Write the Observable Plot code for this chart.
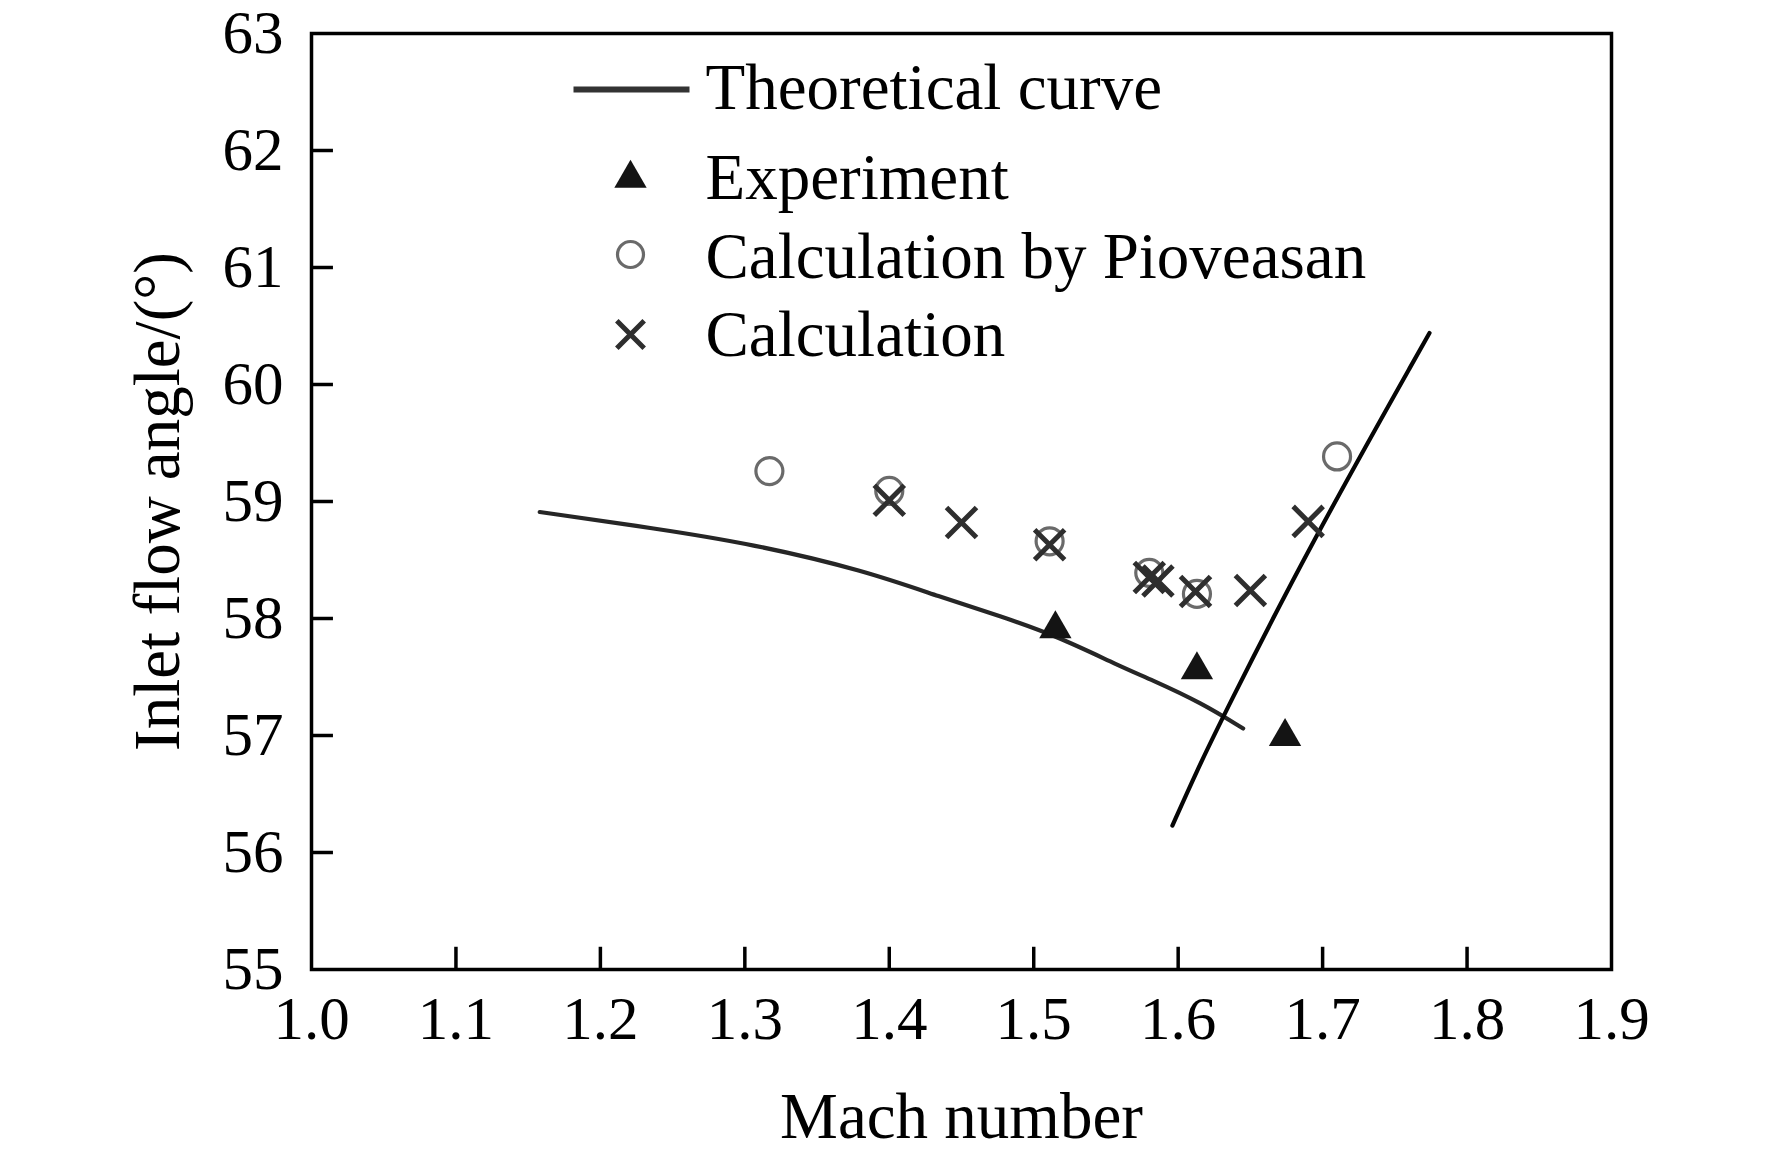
<!DOCTYPE html>
<html>
<head>
<meta charset="utf-8">
<script src="https://cdn.jsdelivr.net/npm/d3@7"></script>
<script src="https://cdn.jsdelivr.net/npm/@observablehq/plot@0.6"></script>
<style>
  html, body { margin: 0; padding: 0; background: #fff; }
  #chart svg { display: block; }
</style>
</head>
<body>
<div id="chart"></div>
<script>
// ---- Data ----
const xTicks = [1.0, 1.1, 1.2, 1.3, 1.4, 1.5, 1.6, 1.7, 1.8, 1.9];
const yTicks = [55, 56, 57, 58, 59, 60, 61, 62, 63];

// Theoretical curve, branch 1 (decreasing branch)
const theoryA_mach  = [1.158, 1.238, 1.304, 1.383, 1.436, 1.477, 1.516, 1.560, 1.581, 1.616, 1.645];
const theoryA_angle = [58.91, 58.77, 58.64, 58.41, 58.18, 58.02, 57.85, 57.59, 57.48, 57.28, 57.06];
// Theoretical curve, branch 2 (steep branch)
const theoryB_mach  = [1.596, 1.613, 1.631, 1.690, 1.774];
const theoryB_angle = [56.23, 56.70, 57.16, 58.60, 60.44];

// Experiment (triangles)
const expMach  = [1.515, 1.613, 1.674];
const expAngle = [57.91, 57.56, 56.99];

// Calculation by Pioveasan (open circles)
const pioMach  = [1.317, 1.400, 1.511, 1.580, 1.613, 1.710];
const pioAngle = [59.26, 59.09, 58.66, 58.39, 58.21, 59.385];

// Calculation (crosses)
const calcMach  = [1.400, 1.450, 1.511, 1.580, 1.586, 1.612, 1.650, 1.690];
const calcAngle = [59.01, 58.82, 58.63, 58.35, 58.32, 58.23, 58.24, 58.83];

const legendLabels = ["Theoretical curve", "Experiment", "Calculation by Pioveasan", "Calculation"];

// ---- Build tables ----
const theory = [
  ...theoryA_mach.map((m, i) => ({branch: "A", mach: m, angle: theoryA_angle[i]})),
  ...theoryB_mach.map((m, i) => ({branch: "B", mach: m, angle: theoryB_angle[i]}))
];
const exp = expMach.map((m, i) => ({mach: m, angle: expAngle[i]}));
const pio = pioMach.map((m, i) => ({mach: m, angle: pioAngle[i]}));
const calc = calcMach.map((m, i) => ({mach: m, angle: calcAngle[i]}));

const innerX = xTicks.slice(1, -1);
const innerY = yTicks.slice(1, -1);

const legendLine = {draw(ctx) { ctx.moveTo(-58, 0); ctx.lineTo(58, 0); }};
const one = [0];
const FONT = "'Liberation Serif', 'Times New Roman', Times, serif";

const chart = Plot.plot({
  width: 1772,
  height: 1172,
  marginLeft: 311,
  marginRight: 161,
  marginTop: 33,
  marginBottom: 203,
  style: {fontFamily: FONT, fontSize: "60px", background: "#fff", color: "#000"},
  x: {domain: [1.0, 1.9]},
  y: {domain: [55, 63]},
  marks: [
    Plot.axisX({ticks: xTicks, tickFormat: d => d.toFixed(1), tickSize: 0, tickPadding: 26, fontSize: 61, label: null}),
    Plot.axisY({ticks: yTicks, tickFormat: d => String(d), tickSize: 0, tickPadding: 28, fontSize: 61, label: null}),
    // inward ticks
    Plot.ruleX(innerX, {x: d => d, y1: 55, y2: 55.19, stroke: "#000", strokeWidth: 3.5}),
    Plot.ruleY(innerY, {y: d => d, x1: 1.0, x2: 1.0152, stroke: "#000", strokeWidth: 3.5}),
    // theoretical curve
    Plot.line(theory, {x: "mach", y: "angle", z: "branch", curve: "basis", stroke: d => d.branch === "A" ? "#262626" : "#050505", strokeWidth: 4.2}),
    // experiment
    Plot.dot(exp, {x: "mach", y: "angle", symbol: "triangle", r: 12, fill: "#141414", stroke: "none"}),
    // Pioveasan
    Plot.dot(pio, {x: "mach", y: "angle", symbol: "circle", r: 13.5, fill: "none", stroke: "#6a6a6a", strokeWidth: 3.2}),
    // calculation
    Plot.dot(calc, {x: "mach", y: "angle", symbol: "times", r: 13.7, stroke: "#2e2e2e", strokeWidth: 5}),
    // frame
    Plot.frame({stroke: "#000", strokeWidth: 3.5}),
    // axis titles
    Plot.text(["Mach number"], {frameAnchor: "bottom", dy: 168, lineAnchor: "bottom", textAnchor: "middle", fontSize: 65, fill: "#000"}),
    Plot.text(["Inlet flow angle/(°)"], {frameAnchor: "left", dx: -133, rotate: -90, lineAnchor: "bottom", textAnchor: "middle", fontSize: 65, fill: "#000"}),
    // legend symbols
    Plot.dot(one, {frameAnchor: "top-left", dx: 320, dy: 56, symbol: legendLine, stroke: "#333", strokeWidth: 6}),
    Plot.dot(one, {frameAnchor: "top-left", dx: 319, dy: 145, symbol: "triangle", r: 12, fill: "#141414", stroke: "none"}),
    Plot.dot(one, {frameAnchor: "top-left", dx: 319, dy: 221, symbol: "circle", r: 13, fill: "none", stroke: "#6a6a6a", strokeWidth: 3.2}),
    Plot.dot(one, {frameAnchor: "top-left", dx: 319, dy: 301, symbol: "times", r: 12.5, stroke: "#2e2e2e", strokeWidth: 5}),
    // legend labels
    Plot.text([legendLabels[0]], {frameAnchor: "top-left", dx: 394, dy: 75, lineAnchor: "bottom", textAnchor: "start", fontSize: 65, fill: "#000"}),
    Plot.text([legendLabels[1]], {frameAnchor: "top-left", dx: 394, dy: 165, lineAnchor: "bottom", textAnchor: "start", fontSize: 65, fill: "#000"}),
    Plot.text([legendLabels[2]], {frameAnchor: "top-left", dx: 394, dy: 244, lineAnchor: "bottom", textAnchor: "start", fontSize: 65, fill: "#000"}),
    Plot.text([legendLabels[3]], {frameAnchor: "top-left", dx: 394, dy: 322, lineAnchor: "bottom", textAnchor: "start", fontSize: 65, fill: "#000"})
  ]
});
document.getElementById("chart").append(chart);
</script>
</body>
</html>
